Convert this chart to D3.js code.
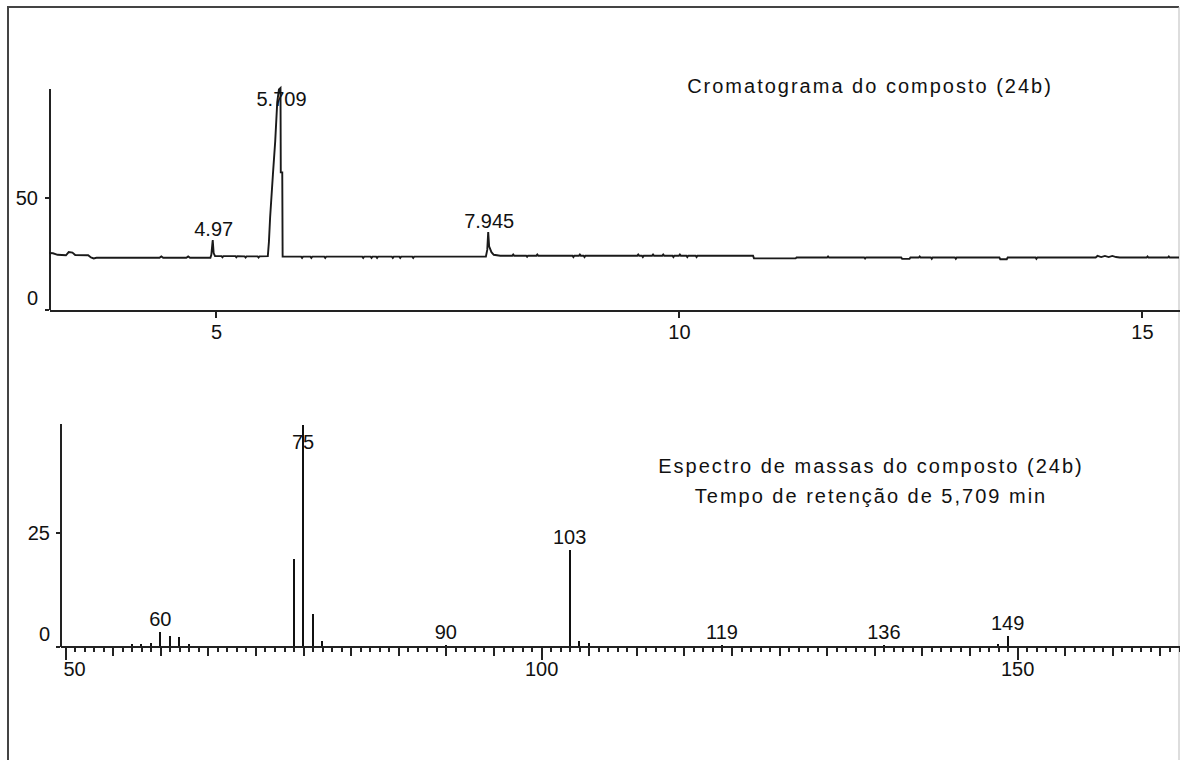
<!DOCTYPE html>
<html>
<head>
<meta charset="utf-8">
<script src="https://cdn.jsdelivr.net/npm/d3@7"></script>
<style>
  body { margin: 0; background: #fff; }
  svg { display: block; }
  text { font-family: "Liberation Sans", Arial, sans-serif; fill: #111; }
  .axis path, .axis line { stroke: #222; stroke-width: 2; shape-rendering: crispEdges; }
  .axis text { font-size: 20px; }
  .title { font-size: 20px; letter-spacing: 2px; }
  .peak-label { font-size: 20px; }
  .trace { fill: none; stroke: #1a1a1a; stroke-width: 1.9; stroke-linejoin: miter; }
  .stick { stroke: #111; stroke-width: 2; shape-rendering: crispEdges; }
</style>
</head>
<body>
<div id="graphic"></div>
<script>
// chromatogram trace: [retention time (min), signal]
var chromTrace = [
  [3.20,25.0],[3.24,24.9],[3.29,24.2],[3.38,24.0],[3.41,25.4],[3.45,25.2],[3.48,24.1],[3.62,24.0],[3.65,23.0],[3.68,22.6],[3.71,22.9],
  [4.39,22.9],[4.41,23.5],[4.43,22.9],
  [4.68,22.9],[4.70,23.5],[4.72,22.9],
  [4.94,22.9],[4.95,24.2],[4.965,30.8],[4.975,25.0],[4.99,23.6],
  [5.06,23.6],[5.07,23.1],[5.08,23.6],
  [5.21,23.6],[5.22,23.1],[5.23,23.6],
  [5.31,23.5],[5.32,23.0],[5.33,23.5],
  [5.45,23.5],[5.46,23.0],[5.47,23.5],
  [5.56,23.6],[5.572,30],[5.585,41],[5.615,60],[5.64,75],[5.662,92.5],[5.68,98],[5.697,98.7],[5.70,61],[5.716,61],[5.72,23.4],
  [5.92,23.4],[5.93,22.8],[5.94,23.4],
  [6.02,23.4],[6.03,22.8],[6.04,23.4],
  [6.17,23.4],[6.18,22.8],[6.19,23.4],
  [6.58,23.4],[6.59,22.8],[6.60,23.4],
  [6.67,23.4],[6.68,22.8],[6.69,23.4],[6.73,23.4],[6.74,22.8],[6.75,23.4],
  [6.90,23.4],[6.91,22.8],[6.92,23.4],
  [6.98,23.4],[6.99,22.8],[7.00,23.4],
  [7.12,23.4],[7.13,22.8],[7.14,23.4],
  [7.915,23.4],[7.93,26.5],[7.94,34.4],[7.95,28],[7.975,25.4],[8.00,24.2],[8.07,23.8],
  [8.20,23.8],[8.21,24.3],[8.22,23.8],
  [8.35,23.8],[8.36,23.3],[8.37,23.8],
  [8.46,23.8],[8.47,24.3],[8.48,23.8],
  [8.85,23.8],[8.86,23.2],[8.87,23.8],
  [8.92,23.8],[8.93,24.3],[8.94,23.8],[8.97,23.8],[8.98,23.2],[8.99,23.8],
  [9.55,23.8],[9.56,24.3],[9.57,23.8],[9.60,23.8],[9.61,23.2],[9.62,23.8],
  [9.71,23.8],[9.72,24.3],[9.73,23.8],
  [9.82,23.8],[9.83,24.3],[9.84,23.8],
  [9.93,23.8],[9.94,23.2],[9.95,23.8],
  [10.00,23.8],[10.01,24.3],[10.02,23.8],
  [10.08,23.8],[10.09,23.2],[10.10,23.8],
  [10.18,23.8],[10.19,23.2],[10.20,23.8],
  [10.80,23.8],[10.81,22.6],[11.26,22.6],[11.27,23.0],
  [11.60,23.0],[11.61,23.5],[11.62,23.0],
  [12.00,23.0],[12.01,22.5],[12.02,23.0],
  [12.40,23.0],[12.41,22.4],[12.49,22.4],[12.50,23.0],
  [12.59,23.0],[12.60,23.5],[12.61,23.0],
  [12.72,23.0],[12.73,22.4],[12.74,23.0],
  [12.98,23.0],[12.99,22.4],[13.00,23.0],
  [13.46,23.0],[13.47,22.2],[13.54,22.2],[13.55,23.0],
  [13.85,23.0],[13.86,22.4],[13.87,23.0],
  [14.50,23.0],[14.52,23.7],[14.56,23.2],[14.60,23.7],[14.64,23.2],[14.68,23.7],[14.72,23.2],[14.76,23.0],
  [15.05,23.0],[15.06,23.5],[15.07,23.0],
  [15.28,23.0],[15.29,23.5],[15.30,23.0],
  [15.40,23.0]
];
var chromPeakTimes = [4.965, 5.697, 7.94];
var chromPeakLabels = ["4.97", "5.709", "7.945"];
var chromXTicks = [5, 10, 15];
var chromYTicks = [0, 50];

// mass spectrum sticks
var msMz =        [57,  58,  59,  60,  61,  62,  63,  74,   75,   76,  77,  90,  103,  104, 105, 119, 136, 148, 149];
var msIntensity = [0.4, 0.5, 0.6, 3.2, 2.3, 1.9, 0.4, 19.2, 48.9, 7.0, 1.2, 0.3, 21.2, 1.2, 0.6, 0.2, 0.2, 0.4, 2.2];
var msLabelMz = [60, 75, 90, 103, 119, 136, 149];
var msXTicks = [50, 100, 150];
var msYTicks = [0, 25];

var titleChrom = "Cromatograma do composto (24b)";
var titleMs = ["Espectro de massas do composto (24b)", "Tempo de retenção de 5,709 min"];

var width = 1180;
var height = 760;
var svg;

function renderFrame() {
  svg = d3.select("#graphic").append("svg")
    .attr("width", width)
    .attr("height", height);

  svg.append("path")
    .attr("d", "M8,760 L8,7 L1179,7")
    .attr("fill", "none")
    .attr("stroke", "#444")
    .attr("stroke-width", 2);
  svg.append("line")
    .attr("x1", 1179).attr("x2", 1179).attr("y1", 7).attr("y2", 760)
    .attr("stroke", "#bbb");
}

function renderChromatogram() {
  var x = d3.scaleLinear().domain([3.197, 15.40]).range([49, 1179]);
  var y = d3.scaleLinear().domain([0, 98.7]).range([309, 88]);

  var yAxis = svg.append("g")
    .attr("class", "axis")
    .attr("transform", "translate(49,0)")
    .call(d3.axisLeft(y).tickValues(chromYTicks).tickSize(4).tickSizeOuter(0).tickPadding(7));
  yAxis.selectAll(".tick text").filter(d => d === 0).attr("dy", "-0.25em");
  yAxis.selectAll(".tick text").filter(d => d !== 0).attr("dy", "0.36em");

  svg.append("g")
    .attr("class", "axis")
    .attr("transform", "translate(0,310)")
    .call(d3.axisBottom(x).tickValues(chromXTicks).tickSize(8).tickSizeOuter(0).tickPadding(7));

  svg.append("path")
    .datum(chromTrace)
    .attr("class", "trace")
    .attr("d", d3.line().x(d => x(d[0])).y(d => y(d[1])));

  chromPeakTimes.forEach(function(t, i) {
    var top = d3.max(chromTrace.filter(d => Math.abs(d[0] - t) < 0.03), d => d[1]);
    svg.append("text")
      .attr("class", "peak-label")
      .attr("text-anchor", "middle")
      .attr("x", x(t) + 1)
      .attr("y", Math.max(y(top) - 4, y.range()[1] + 18))
      .text(chromPeakLabels[i]);
  });

  svg.append("text")
    .attr("class", "title")
    .attr("text-anchor", "middle")
    .attr("x", 870)
    .attr("y", 93)
    .text(titleChrom);
}

function renderSpectrum() {
  var x = d3.scaleLinear().domain([49.47, 167.0]).range([60, 1179]);
  var y = d3.scaleLinear().domain([0, 49.3]).range([646, 423]);
  var minor = d3.range(50, 168);

  svg.append("g")
    .attr("class", "axis")
    .attr("transform", "translate(0,646)")
    .call(d3.axisBottom(x).tickValues(minor).tickSize(6).tickSizeOuter(0).tickFormat(""));
  svg.append("g")
    .attr("class", "axis")
    .attr("transform", "translate(0,646)")
    .call(d3.axisBottom(x).tickValues(minor.filter(v => v % 5 === 0)).tickSize(10).tickSizeOuter(0).tickFormat(""))
    .select(".domain").remove();
  var xAxis = svg.append("g")
    .attr("class", "axis")
    .attr("transform", "translate(0,646)")
    .call(d3.axisBottom(x).tickValues(msXTicks).tickSize(14).tickSizeOuter(0).tickPadding(2));
  xAxis.select(".domain").remove();
  xAxis.selectAll(".tick text").filter(d => d === 50).attr("dx", "9");

  var yAxis = svg.append("g")
    .attr("class", "axis")
    .attr("transform", "translate(60,0)")
    .call(d3.axisLeft(y).tickValues(msYTicks).tickSize(4).tickSizeOuter(0).tickPadding(6));
  yAxis.selectAll(".tick text").filter(d => d === 0).attr("dy", "-0.3em");

  svg.append("g")
    .selectAll("text")
    .data(msLabelMz)
    .join("text")
    .attr("class", "peak-label")
    .attr("text-anchor", "middle")
    .attr("x", d => x(d))
    .attr("y", d => Math.max(y(msIntensity[msMz.indexOf(d)]) - 6, y.range()[1] + 26))
    .text(d => d);

  svg.append("g")
    .selectAll("line")
    .data(msMz)
    .join("line")
    .attr("class", "stick")
    .attr("x1", d => Math.round(x(d)))
    .attr("x2", d => Math.round(x(d)))
    .attr("y1", y(0))
    .attr("y2", (d, i) => y(msIntensity[i]));

  svg.append("g")
    .selectAll("text")
    .data(titleMs)
    .join("text")
    .attr("class", "title")
    .attr("text-anchor", "middle")
    .attr("x", 871)
    .attr("y", (d, i) => 473 + i * 30)
    .text(d => d);
}

renderFrame();
renderChromatogram();
renderSpectrum();
</script>
</body>
</html>
